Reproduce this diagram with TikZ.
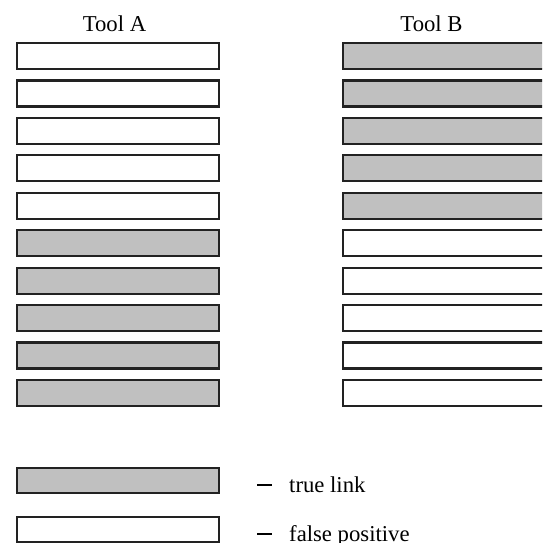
\documentclass[tikz,border=0pt]{standalone}
\usepackage{fontspec}
\setmainfont{Liberation Serif}
\usepackage{tikz}
\definecolor{linkgray}{RGB}{192,192,192}
\definecolor{edgegray}{RGB}{34,34,34}
\tikzset{
  bar/.style={draw=edgegray, line width=2.2pt, minimum width=202pt, minimum height=26pt, inner sep=0pt},
  truebar/.style={bar, fill=linkgray},
  falsebar/.style={bar, fill=white},
  label/.style={inner sep=0pt, font=\fontsize{22.7}{27}\selectfont}
}
\newcommand{\legenddash}{\rule[6.5pt]{15pt}{1.6pt}\hspace{17pt}}
\begin{document}
\begin{tikzpicture}[x=1pt,y=-1pt]
\useasboundingbox (0,0) rectangle (542,543);
\clip (0,0) rectangle (542,543);
\node[label, anchor=base] (ta) at (114.5,32) {Tool A};
\node[label, anchor=base] (tb) at (431.5,32) {Tool B};
% tool A
\node[falsebar] (a1) at (118,56) {};
\node[falsebar] (a2) at (118,93.4) {};
\node[falsebar] (a3) at (118,130.9) {};
\node[falsebar] (a4) at (118,168.3) {};
\node[falsebar] (a5) at (118,205.8) {};
\node[truebar] (a6) at (118,243.2) {};
\node[truebar] (a7) at (118,280.6) {};
\node[truebar] (a8) at (118,318.1) {};
\node[truebar] (a9) at (118,355.5) {};
\node[truebar] (a10) at (118,393) {};
% tool B
\node[truebar] (b1) at (444,56) {};
\node[truebar] (b2) at (444,93.4) {};
\node[truebar] (b3) at (444,130.9) {};
\node[truebar] (b4) at (444,168.3) {};
\node[truebar] (b5) at (444,205.8) {};
\node[falsebar] (b6) at (444,243.2) {};
\node[falsebar] (b7) at (444,280.6) {};
\node[falsebar] (b8) at (444,318.1) {};
\node[falsebar] (b9) at (444,355.5) {};
\node[falsebar] (b10) at (444,393) {};
% legend
\node[truebar, minimum height=25pt] (lt) at (118,480.5) {};
\node[falsebar, minimum height=25pt] (lf) at (118,529.5) {};
\node[label, anchor=base west] (tt) at (257,492) {\legenddash true link};
\node[label, anchor=base west] (tf) at (257,541) {\legenddash false positive};
\end{tikzpicture}
\end{document}
